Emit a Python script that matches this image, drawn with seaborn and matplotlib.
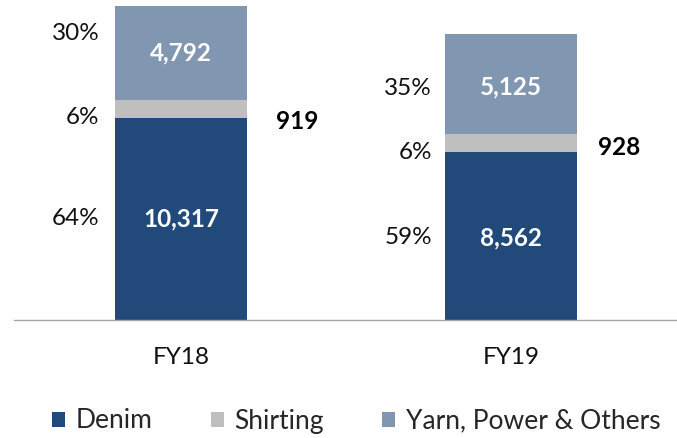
import matplotlib
matplotlib.use("Agg")
import matplotlib.pyplot as plt
import seaborn as sns
import pandas as pd
from matplotlib.patches import Patch

years = ["FY18", "FY19"]
denim = [10317, 8562]
shirting = [919, 928]
yarn = [4792, 5125]
denim_pct = ["64%", "59%"]
shirting_pct = ["6%", "6%"]
yarn_pct = ["30%", "35%"]
series_names = ["Denim", "Shirting", "Yarn, Power & Others"]
colors = ["#214A7B", "#BFBFBF", "#8096B1"]

sns.set_theme(style="white")
plt.rcParams['font.family'] = ['Lato', 'DejaVu Sans']

fig = plt.figure(figsize=(6.77, 4.38), dpi=100)
ax = fig.add_axes([14/677, 1 - 320/438, 663/677, 320/438])

df = pd.DataFrame({"year": years, "denim": denim, "shirting": shirting, "yarn": yarn})
bottom2 = [d + s for d, s in zip(denim, shirting)]
common = dict(width=0.4, ax=ax, saturation=1, linewidth=0, edgecolor="none")
sns.barplot(data=df, x="year", y="denim", color=colors[0], **common)
sns.barplot(data=df, x="year", y="shirting", color=colors[1], bottom=denim, **common)
sns.barplot(data=df, x="year", y="yarn", color=colors[2], bottom=bottom2, **common)

ax.set_xlim(-0.506, 1.503)
ax.set_ylim(0, 16334)
for s in ["top", "right", "left"]:
    ax.spines[s].set_visible(False)
ax.spines["bottom"].set_color("#A6A6A6")
ax.spines["bottom"].set_linewidth(1.0)
ax.set_yticks([])
ax.set_xlabel("")
ax.set_ylabel("")
fs = 17.5
ax.tick_params(axis="x", length=0, pad=19.5, labelsize=fs, labelcolor="#111111")

half = 0.2
# per-label nudges in points (positive = up)
pct_nudge = {"yarn": [14, -3], "shirting": [-6, -6.5], "denim": [0.5, -1]}
pct_gap = [-11, -9.5]
val_nudge = {"yarn": [0, -2], "denim": [0, -1]}
side_offset = [(21, -9), (15, -3)]
for i in range(2):
    left = i - half
    segs = [("denim", 0, denim[i], denim_pct[i]),
            ("shirting", denim[i], shirting[i], shirting_pct[i]),
            ("yarn", bottom2[i], yarn[i], yarn_pct[i])]
    for name, b, h, pct in segs:
        yc = b + h / 2
        ax.annotate(pct, (left, yc), xytext=(pct_gap[i], pct_nudge[name][i]),
                    textcoords="offset points", ha="right", va="center",
                    fontsize=fs, color="#111111")
        if name != "shirting":
            ax.annotate(f"{h:,}", (i, yc), xytext=(0, val_nudge[name][i]),
                        textcoords="offset points", ha="center", va="center",
                        fontsize=fs, color="white", fontweight="bold")
    yc = denim[i] + shirting[i] / 2
    ax.annotate(f"{shirting[i]:,}", (i + half, yc), xytext=side_offset[i],
                textcoords="offset points", ha="left", va="center",
                fontsize=fs, color="black", fontweight="bold")

handles = [Patch(facecolor=c, edgecolor="none") for c in colors]
leg = fig.legend(handles, series_names, loc="center",
                 bbox_to_anchor=(356/677, 1 - 421/438), ncol=3,
                 frameon=False, fontsize=19, handlelength=0.5, handleheight=0.5,
                 handletextpad=0.4, columnspacing=2.2, borderaxespad=0,
                 borderpad=0)

fig.savefig("out.png", dpi=100)
